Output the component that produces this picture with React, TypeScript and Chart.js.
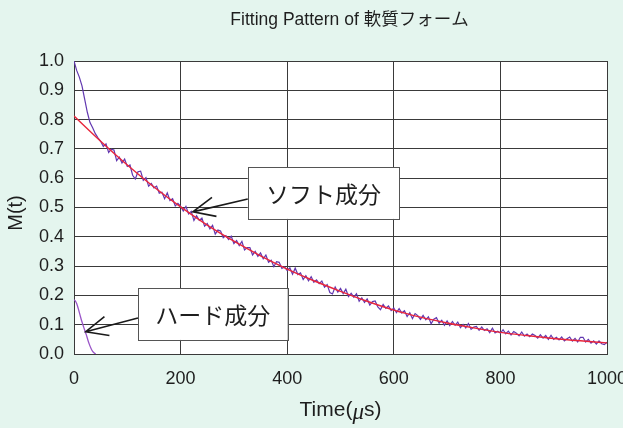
import { useEffect, useRef } from 'react';
import { Chart, registerables } from 'chart.js';

Chart.register(...registerables);

const chartTitle = 'Fitting Pattern of 軟質フォーム';
const yTitle = 'M(t)';
const xTitleParts = ['Time(', 'μ', 's)'];

// Fitted soft component (red)
const fitTimes = [0, 50, 100, 150, 200, 250, 300, 350, 400, 450, 500, 550, 600, 650, 700, 750, 800, 850, 900, 950, 1000];
const fitValues = [0.812, 0.726, 0.645, 0.57, 0.502, 0.44, 0.385, 0.335, 0.29, 0.25, 0.214, 0.18, 0.15, 0.126, 0.106, 0.089, 0.074, 0.063, 0.053, 0.045, 0.038];

// Measured signal (purple), sampled every 5 µs
const measuredTimes = Array.from({ length: 201 }, (_, i) => i * 5);
const measuredValues = [
  1.0, 0.968, 0.945, 0.915, 0.87, 0.825, 0.79, 0.772, 0.752, 0.738,
  0.726, 0.708, 0.717, 0.688, 0.699, 0.696, 0.66, 0.672, 0.652, 0.665, 0.64,
  0.645, 0.61, 0.597, 0.622, 0.624, 0.593, 0.602, 0.573, 0.582, 0.567,
  0.573, 0.549, 0.552, 0.53, 0.55, 0.524, 0.53, 0.505, 0.514, 0.504,
  0.488, 0.504, 0.478, 0.487, 0.456, 0.472, 0.456, 0.464, 0.436, 0.445,
  0.427, 0.439, 0.409, 0.423, 0.42, 0.397, 0.404, 0.391, 0.402, 0.377,
  0.387, 0.37, 0.384, 0.355, 0.363, 0.363, 0.338, 0.35, 0.333, 0.345,
  0.325, 0.338, 0.313, 0.32, 0.298, 0.315, 0.313, 0.292, 0.297, 0.285,
  0.294, 0.272, 0.293, 0.271, 0.277, 0.254, 0.267, 0.25, 0.264, 0.245,
  0.253, 0.24, 0.249, 0.228, 0.237, 0.21, 0.205, 0.229, 0.211, 0.224,
  0.206, 0.221, 0.196, 0.207, 0.194, 0.206, 0.18, 0.192, 0.176, 0.188,
  0.167, 0.179, 0.181, 0.161, 0.151, 0.169, 0.156, 0.164, 0.148, 0.157,
  0.141, 0.155, 0.14, 0.148, 0.128, 0.141, 0.121, 0.138, 0.131, 0.118,
  0.132, 0.117, 0.127, 0.103, 0.119, 0.124, 0.105, 0.115, 0.098, 0.113,
  0.097, 0.111, 0.098, 0.109, 0.09, 0.101, 0.089, 0.104, 0.084, 0.092,
  0.094, 0.081, 0.092, 0.08, 0.086, 0.073, 0.088, 0.072, 0.078, 0.071,
  0.083, 0.069, 0.078, 0.065, 0.077, 0.071, 0.062, 0.075, 0.061, 0.068,
  0.059, 0.068, 0.063, 0.054, 0.066, 0.054, 0.063, 0.05, 0.064, 0.05,
  0.057, 0.048, 0.058, 0.045, 0.052, 0.058, 0.044, 0.053, 0.041, 0.057,
  0.057, 0.041, 0.05, 0.037, 0.045, 0.034, 0.045, 0.035, 0.032, 0.04,
];

// Hard component (purple, near origin)
const hardTimes = [0, 2, 5, 8, 11, 14, 17, 20, 23, 26, 29, 32, 35, 38, 41];
const hardValues = [0.185, 0.182, 0.172, 0.155, 0.135, 0.115, 0.098, 0.082, 0.066, 0.048, 0.032, 0.019, 0.009, 0.003, 0.0];

// Callout annotations in data units
const callouts = [
  { label: 'ソフト成分', box: [326, 0.638, 610, 0.461], from: [326, 0.529], tip: [223, 0.485] },
  { label: 'ハード成分', box: [120, 0.225, 401, 0.048], from: [120, 0.123], tip: [22, 0.076] },
];

const BG = '#e4f5ee';
const GRID = '#3a3a3a';
const TEXT = '#1e1e1e';
const PURPLE = '#6238b0';
const RED = '#e8263c';
const LATIN = '"Liberation Sans", Arial, "Noto Sans CJK JP", sans-serif';

const decorPlugin = {
  id: 'decor',
  beforeDraw(chart: any) {
    const { ctx, chartArea: a, width, height } = chart;
    ctx.save();
    ctx.fillStyle = BG;
    ctx.fillRect(0, 0, width, height);
    ctx.fillStyle = '#ffffff';
    ctx.fillRect(a.left, a.top, a.right - a.left, a.bottom - a.top);
    ctx.restore();
  },
  afterDatasetsDraw(chart: any) {
    const { ctx, chartArea: a } = chart;
    const xs = chart.scales.x;
    const ys = chart.scales.y;
    ctx.save();
    for (const c of callouts) {
      const x1 = xs.getPixelForValue(c.box[0]);
      const y1 = ys.getPixelForValue(c.box[1]);
      const x2 = xs.getPixelForValue(c.box[2]);
      const y2 = ys.getPixelForValue(c.box[3]);
      ctx.fillStyle = '#ffffff';
      ctx.fillRect(x1, y1, x2 - x1, y2 - y1);
      ctx.strokeStyle = '#555';
      ctx.lineWidth = 1;
      ctx.strokeRect(Math.round(x1) + 0.5, Math.round(y1) + 0.5, Math.round(x2 - x1), Math.round(y2 - y1));
      ctx.fillStyle = TEXT;
      ctx.font = '23px "Noto Sans CJK JP", sans-serif';
      ctx.textAlign = 'center';
      ctx.textBaseline = 'middle';
      ctx.fillText(c.label, (x1 + x2) / 2, (y1 + y2) / 2 + 1);
      // arrow
      const fx = xs.getPixelForValue(c.from[0]);
      const fy = ys.getPixelForValue(c.from[1]);
      const tx = xs.getPixelForValue(c.tip[0]);
      const ty = ys.getPixelForValue(c.tip[1]);
      const ang = Math.atan2(fy - ty, fx - tx);
      const len = 24;
      const spread = (24 * Math.PI) / 180;
      ctx.strokeStyle = '#1a1a1a';
      ctx.lineWidth = 1.6;
      ctx.beginPath();
      ctx.moveTo(fx, fy);
      ctx.lineTo(tx, ty);
      ctx.moveTo(tx + len * Math.cos(ang - spread), ty + len * Math.sin(ang - spread));
      ctx.lineTo(tx, ty);
      ctx.lineTo(tx + len * Math.cos(ang + spread), ty + len * Math.sin(ang + spread));
      ctx.stroke();
    }
    // titles
    ctx.fillStyle = TEXT;
    ctx.textBaseline = 'middle';
    ctx.textAlign = 'center';
    ctx.font = '17.5px ' + LATIN;
    ctx.fillText(chartTitle, (a.left + a.right) / 2 + 9, 20);
    // y title
    ctx.save();
    ctx.translate(16, 213);
    ctx.rotate(-Math.PI / 2);
    ctx.font = '20px ' + LATIN;
    ctx.fillText(yTitle, 0, 0);
    ctx.restore();
    // x title with italic mu
    const fonts = ['21px ' + LATIN, 'italic 23px "Liberation Serif", serif', '21px ' + LATIN];
    let total = 0;
    const widths = xTitleParts.map((p, i) => {
      ctx.font = fonts[i];
      const w = ctx.measureText(p).width;
      total += w;
      return w;
    });
    let x = (a.left + a.right) / 2 - total / 2;
    ctx.textAlign = 'left';
    xTitleParts.forEach((p, i) => {
      ctx.font = fonts[i];
      ctx.fillText(p, x, i === 1 ? 413 : 410);
      x += widths[i];
    });
    ctx.restore();
  },
};

export default function App() {
  const ref = useRef<HTMLCanvasElement | null>(null);
  useEffect(() => {
    if (!ref.current) return;
    const chart = new Chart(ref.current, {
      type: 'line',
      data: {
        datasets: [
          {
            label: 'fit',
            data: fitTimes.map((t, i) => ({ x: t, y: fitValues[i] })),
            borderColor: RED,
            borderWidth: 1.4,
            pointRadius: 0,
            cubicInterpolationMode: 'monotone',
          },
          {
            label: 'measured',
            data: measuredTimes.map((t, i) => ({ x: t, y: measuredValues[i] })),
            borderColor: PURPLE,
            borderWidth: 1.2,
            pointRadius: 0,
            tension: 0,
          },
          {
            label: 'hard',
            data: hardTimes.map((t, i) => ({ x: t, y: hardValues[i] })),
            borderColor: '#9a55c8',
            borderWidth: 1.3,
            pointRadius: 0,
            tension: 0.3,
          },
        ],
      },
      options: {
        animation: false,
        responsive: true,
        maintainAspectRatio: false,
        layout: { padding: { top: 61, right: 16, left: 0, bottom: 0 } },
        plugins: { legend: { display: false }, title: { display: false }, tooltip: { enabled: false } },
        scales: {
          x: {
            type: 'linear',
            min: 0,
            max: 1000,
            ticks: {
              stepSize: 200,
              color: TEXT,
              font: { size: 18, family: LATIN },
              padding: 14,
              maxRotation: 0,
              callback: (v: any) => String(v),
            },
            grid: { color: GRID, drawTicks: false, lineWidth: 1 },
            border: { color: GRID },
            afterFit: (s: any) => {
              s.height = 74;
              s.paddingLeft = 0;
              s.paddingRight = 0;
            },
          },
          y: {
            min: 0,
            max: 1,
            ticks: {
              stepSize: 0.1,
              color: TEXT,
              font: { size: 18, family: LATIN },
              padding: 10,
              callback: (v: any) => Number(v).toFixed(1),
            },
            grid: { color: GRID, drawTicks: false, lineWidth: 1 },
            border: { color: GRID },
            afterFit: (s: any) => {
              s.width = 74;
              s.paddingTop = 0;
              s.paddingBottom = 0;
            },
          },
        },
      },
      plugins: [decorPlugin],
    } as any);
    return () => chart.destroy();
  }, []);
  return (
    <div style={{ position: 'absolute', left: 0, top: 0, width: 623, height: 428, background: BG }}>
      <canvas ref={ref} />
    </div>
  );
}
